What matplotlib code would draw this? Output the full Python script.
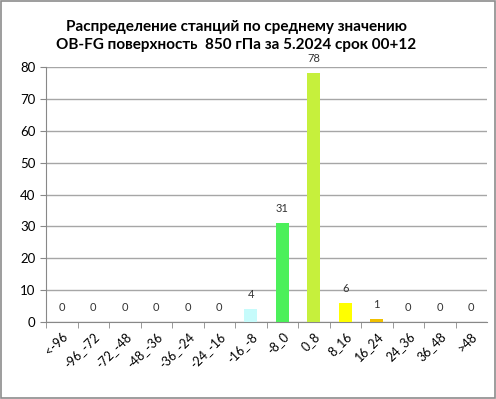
import matplotlib
matplotlib.use("Agg")
import matplotlib.pyplot as plt
from matplotlib.patches import Rectangle

plt.rcParams['font.family'] = ['Lato', 'DejaVu Sans']

categories = ['<-96', '-96_-72', '-72_-48', '-48_-36', '-36_-24', '-24_-16', '-16_-8',
              '-8_0', '0_8', '8_16', '16_24', '24_36', '36_48', '>48']
counts = [0, 0, 0, 0, 0, 0, 4, 31, 78, 6, 1, 0, 0, 0]
bar_colors = ['#c6fbfb'] * 7 + ['#4cf05a', '#c6f03c', '#ffff00', '#f0c000'] + ['#c6fbfb'] * 3

fig = plt.figure(figsize=(4.96, 3.99), dpi=100)
ax = fig.add_axes([46/496, 1 - 322/399, 441/496, 255/399])

x = list(range(len(categories)))
ax.bar(x, counts, width=0.4, color=bar_colors, zorder=3)
for xi, v in zip(x, counts):
    ax.text(xi, v + 2.8, str(v), ha='center', va='bottom', fontsize=8, color='#333333')

ax.set_xlim(-0.5, len(categories) - 0.5)
ax.set_ylim(0, 80)
ax.set_yticks(range(0, 81, 10))
ax.yaxis.grid(True, color='#a6a6a6', linewidth=1, zorder=0)
ax.set_xticks([i + 0.5 for i in x[:-1]] + [-0.5], minor=True)
ax.set_xticks(x)
ax.set_xticklabels(categories, rotation=45, ha='right', rotation_mode='anchor', fontsize=9)
ax.tick_params(axis='x', which='major', length=0, pad=6)
ax.tick_params(axis='x', which='minor', length=4, color='#888888')
ax.tick_params(axis='y', length=4, color='#888888', labelsize=9.5)
for s in ['top', 'right']:
    ax.spines[s].set_visible(False)
ax.spines['left'].set_color('#888888')
ax.spines['bottom'].set_color('#888888')

fig.text(0.477, 0.95, 'Распределение станций по среднему значению\nOB-FG поверхность  850 гПа за 5.2024 срок 00+12',
         ha='center', va='top', fontsize=11, fontweight='bold', linespacing=1.4)

fig.patches.append(Rectangle((0.002, 0.002), 0.996, 0.996, transform=fig.transFigure,
                             fill=False, edgecolor='#8c8c8c', linewidth=1.2))

fig.savefig('out.png', dpi=100)
